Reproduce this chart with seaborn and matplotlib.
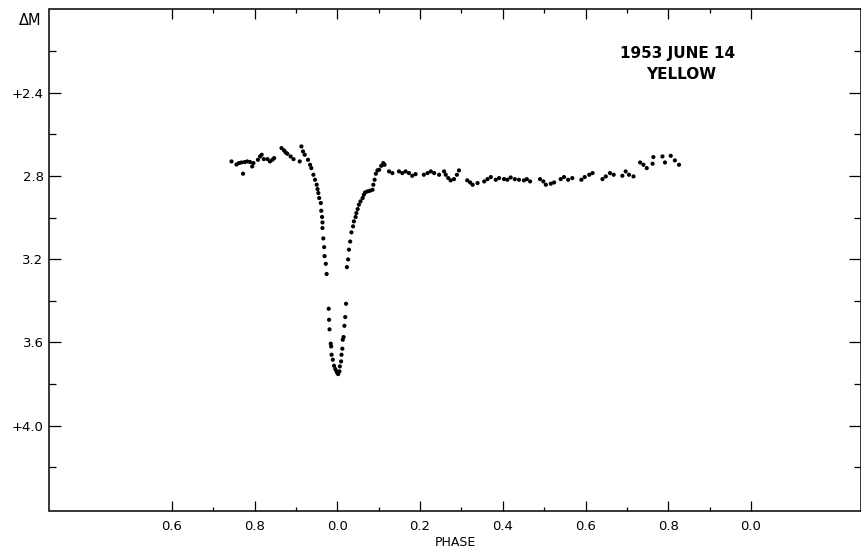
import matplotlib
matplotlib.use("Agg")
import matplotlib.pyplot as plt
import seaborn as sns
import pandas as pd
from matplotlib.ticker import FixedLocator, FixedFormatter

# ---- data (phase unwrapped: 0 = primary minimum) ----
phase = [
    -0.256, -0.244, -0.238, -0.232, -0.228, -0.224, -0.218, -0.211, -0.206, -0.203,
    -0.192, -0.187, -0.183, -0.178, -0.169, -0.163, -0.157, -0.153, -0.135, -0.129,
    -0.125, -0.121, -0.113, -0.106, -0.091, -0.087, -0.083, -0.079, -0.071, -0.066,
    -0.063, -0.058, -0.054, -0.050, -0.048, -0.046, -0.044, -0.040, -0.039, -0.037,
    -0.036, -0.036, -0.034, -0.032, -0.031, -0.028, -0.026,
    -0.021, -0.020, -0.019, -0.016, -0.015, -0.014, -0.011, -0.008, -0.005, -0.002,
    0.000, 0.002, 0.005, 0.006, 0.009, 0.010, 0.012, 0.013, 0.015, 0.017, 0.019, 0.021,
    0.023, 0.026, 0.028, 0.031, 0.034, 0.038, 0.040, 0.044, 0.046, 0.049, 0.052, 0.056,
    0.061, 0.064, 0.067, 0.073, 0.079, 0.085, 0.087, 0.090, 0.093, 0.097, 0.101, 0.106,
    0.111, 0.114,
    0.125, 0.133, 0.149, 0.157, 0.165, 0.173, 0.181, 0.189, 0.209, 0.218, 0.226, 0.234,
    0.246, 0.258, 0.262, 0.268, 0.274, 0.282, 0.289, 0.294, 0.314, 0.321, 0.327, 0.339,
    0.355, 0.363, 0.371, 0.383, 0.391, 0.403, 0.411, 0.419, 0.429, 0.439, 0.451, 0.458,
    0.466, 0.490, 0.498, 0.504, 0.516, 0.524, 0.540, 0.548, 0.558, 0.568, 0.590, 0.598,
    0.609, 0.617, 0.641, 0.649, 0.659, 0.668, 0.689, 0.697, 0.705, 0.716, 0.732, 0.740,
    0.748, 0.762, 0.764, 0.786, 0.792, 0.806, 0.816, 0.826,
]
delta_m = [
    2.730, 2.745, 2.738, 2.735, 2.789, 2.733, 2.730, 2.733, 2.754, 2.738,
    2.722, 2.706, 2.698, 2.719, 2.719, 2.730, 2.722, 2.714, 2.666, 2.677,
    2.687, 2.693, 2.706, 2.719, 2.730, 2.658, 2.682, 2.698, 2.722, 2.746,
    2.762, 2.794, 2.818, 2.842, 2.863, 2.882, 2.906, 2.930, 2.967, 2.997,
    3.023, 3.050, 3.100, 3.142, 3.185, 3.222, 3.271,
    3.438, 3.491, 3.537, 3.606, 3.619, 3.659, 3.683, 3.712, 3.728, 3.739,
    3.747, 3.752, 3.739, 3.715, 3.691, 3.659, 3.630, 3.587, 3.574, 3.520, 3.478, 3.414,
    3.238, 3.201, 3.154, 3.115, 3.071, 3.042, 3.018, 2.997, 2.978, 2.959, 2.938, 2.922,
    2.906, 2.890, 2.879, 2.874, 2.871, 2.866, 2.842, 2.818, 2.789, 2.773, 2.770, 2.751,
    2.738, 2.746,
    2.778, 2.786, 2.778, 2.786, 2.778, 2.786, 2.799, 2.791, 2.794, 2.786, 2.778, 2.786,
    2.794, 2.778, 2.794, 2.810, 2.821, 2.815, 2.794, 2.773, 2.821, 2.831, 2.842, 2.834,
    2.826, 2.815, 2.805, 2.818, 2.810, 2.815, 2.818, 2.807, 2.815, 2.818, 2.821, 2.815,
    2.826, 2.815, 2.826, 2.842, 2.837, 2.831, 2.815, 2.805, 2.818, 2.810, 2.818, 2.805,
    2.794, 2.786, 2.815, 2.802, 2.786, 2.794, 2.799, 2.778, 2.794, 2.802, 2.735, 2.746,
    2.762, 2.741, 2.709, 2.706, 2.735, 2.703, 2.725, 2.746,
]

x_ticks = [-0.4, -0.2, 0.0, 0.2, 0.4, 0.6, 0.8, 1.0]
x_tick_labels = ["0.6", "0.8", "0.0", "0.2", "0.4", "0.6", "0.8", "0.0"]
x_minor_ticks = [-0.3, -0.1, 0.1, 0.3, 0.5, 0.7, 0.9]
y_ticks = [2.4, 2.8, 3.2, 3.6, 4.0]
y_tick_labels = ["+2.4", "2.8", "3.2", "3.6", "+4.0"]
y_minor_ticks = [2.2, 2.6, 3.0, 3.4, 3.8, 4.2]

title_lines = ["1953 JUNE 14", "YELLOW"]
x_label = "PHASE"
y_label = "\u0394M"

# ---- figure ----
sns.set_style("ticks")
plt.rcParams["font.family"] = ["DejaVu Sans"]
plt.rcParams["text.color"] = "black"
plt.rcParams["axes.labelcolor"] = "black"
plt.rcParams["xtick.color"] = "black"
plt.rcParams["ytick.color"] = "black"

W, H = 862, 548
fig = plt.figure(figsize=(W / 100, H / 100), dpi=100)
L, R, T, B = 49.5, 861.0, 8.5, 511.0
ax = fig.add_axes([L / W, 1 - B / H, (R - L) / W, (B - T) / H])

df = pd.DataFrame({"phase": phase, "dm": delta_m})
sns.scatterplot(data=df, x="phase", y="dm", ax=ax, s=9, color="black",
                edgecolor="none", linewidth=0, legend=False)

ax.set_xlim(-0.696, 1.266)
ax.set_ylim(4.41, 1.995)

ax.xaxis.set_major_locator(FixedLocator(x_ticks))
ax.xaxis.set_major_formatter(FixedFormatter(x_tick_labels))
ax.xaxis.set_minor_locator(FixedLocator(x_minor_ticks))
ax.yaxis.set_major_locator(FixedLocator(y_ticks))
ax.yaxis.set_major_formatter(FixedFormatter(y_tick_labels))
ax.yaxis.set_minor_locator(FixedLocator(y_minor_ticks))

ax.tick_params(which="both", direction="in", top=True, right=True,
               color="black", labelcolor="black", width=0.9)
ax.tick_params(axis="x", which="major", length=7.2, pad=6.5, labelsize=9.5)
ax.tick_params(axis="x", which="minor", length=3.2)
ax.tick_params(axis="y", which="major", length=8.4, pad=4.3, labelsize=9.5)
ax.tick_params(axis="y", which="minor", length=5.0)

for sp in ax.spines.values():
    sp.set_visible(True)
    sp.set_linewidth(1.1)
    sp.set_color("black")

ax.set_xlabel(x_label, fontsize=9, labelpad=2, color="black")
ax.set_ylabel("")

ax.text(-0.0098, 0.976, y_label, transform=ax.transAxes, ha="right",
        va="center", fontsize=10.5, color="black")

ax.text(0.7734, 0.9104, title_lines[0], transform=ax.transAxes, ha="center",
        va="center", fontsize=11, fontweight="bold", color="black")
ax.text(0.778, 0.8685, title_lines[1], transform=ax.transAxes, ha="center",
        va="center", fontsize=11, fontweight="bold", color="black")

fig.savefig("out.png", dpi=100, facecolor="white")
